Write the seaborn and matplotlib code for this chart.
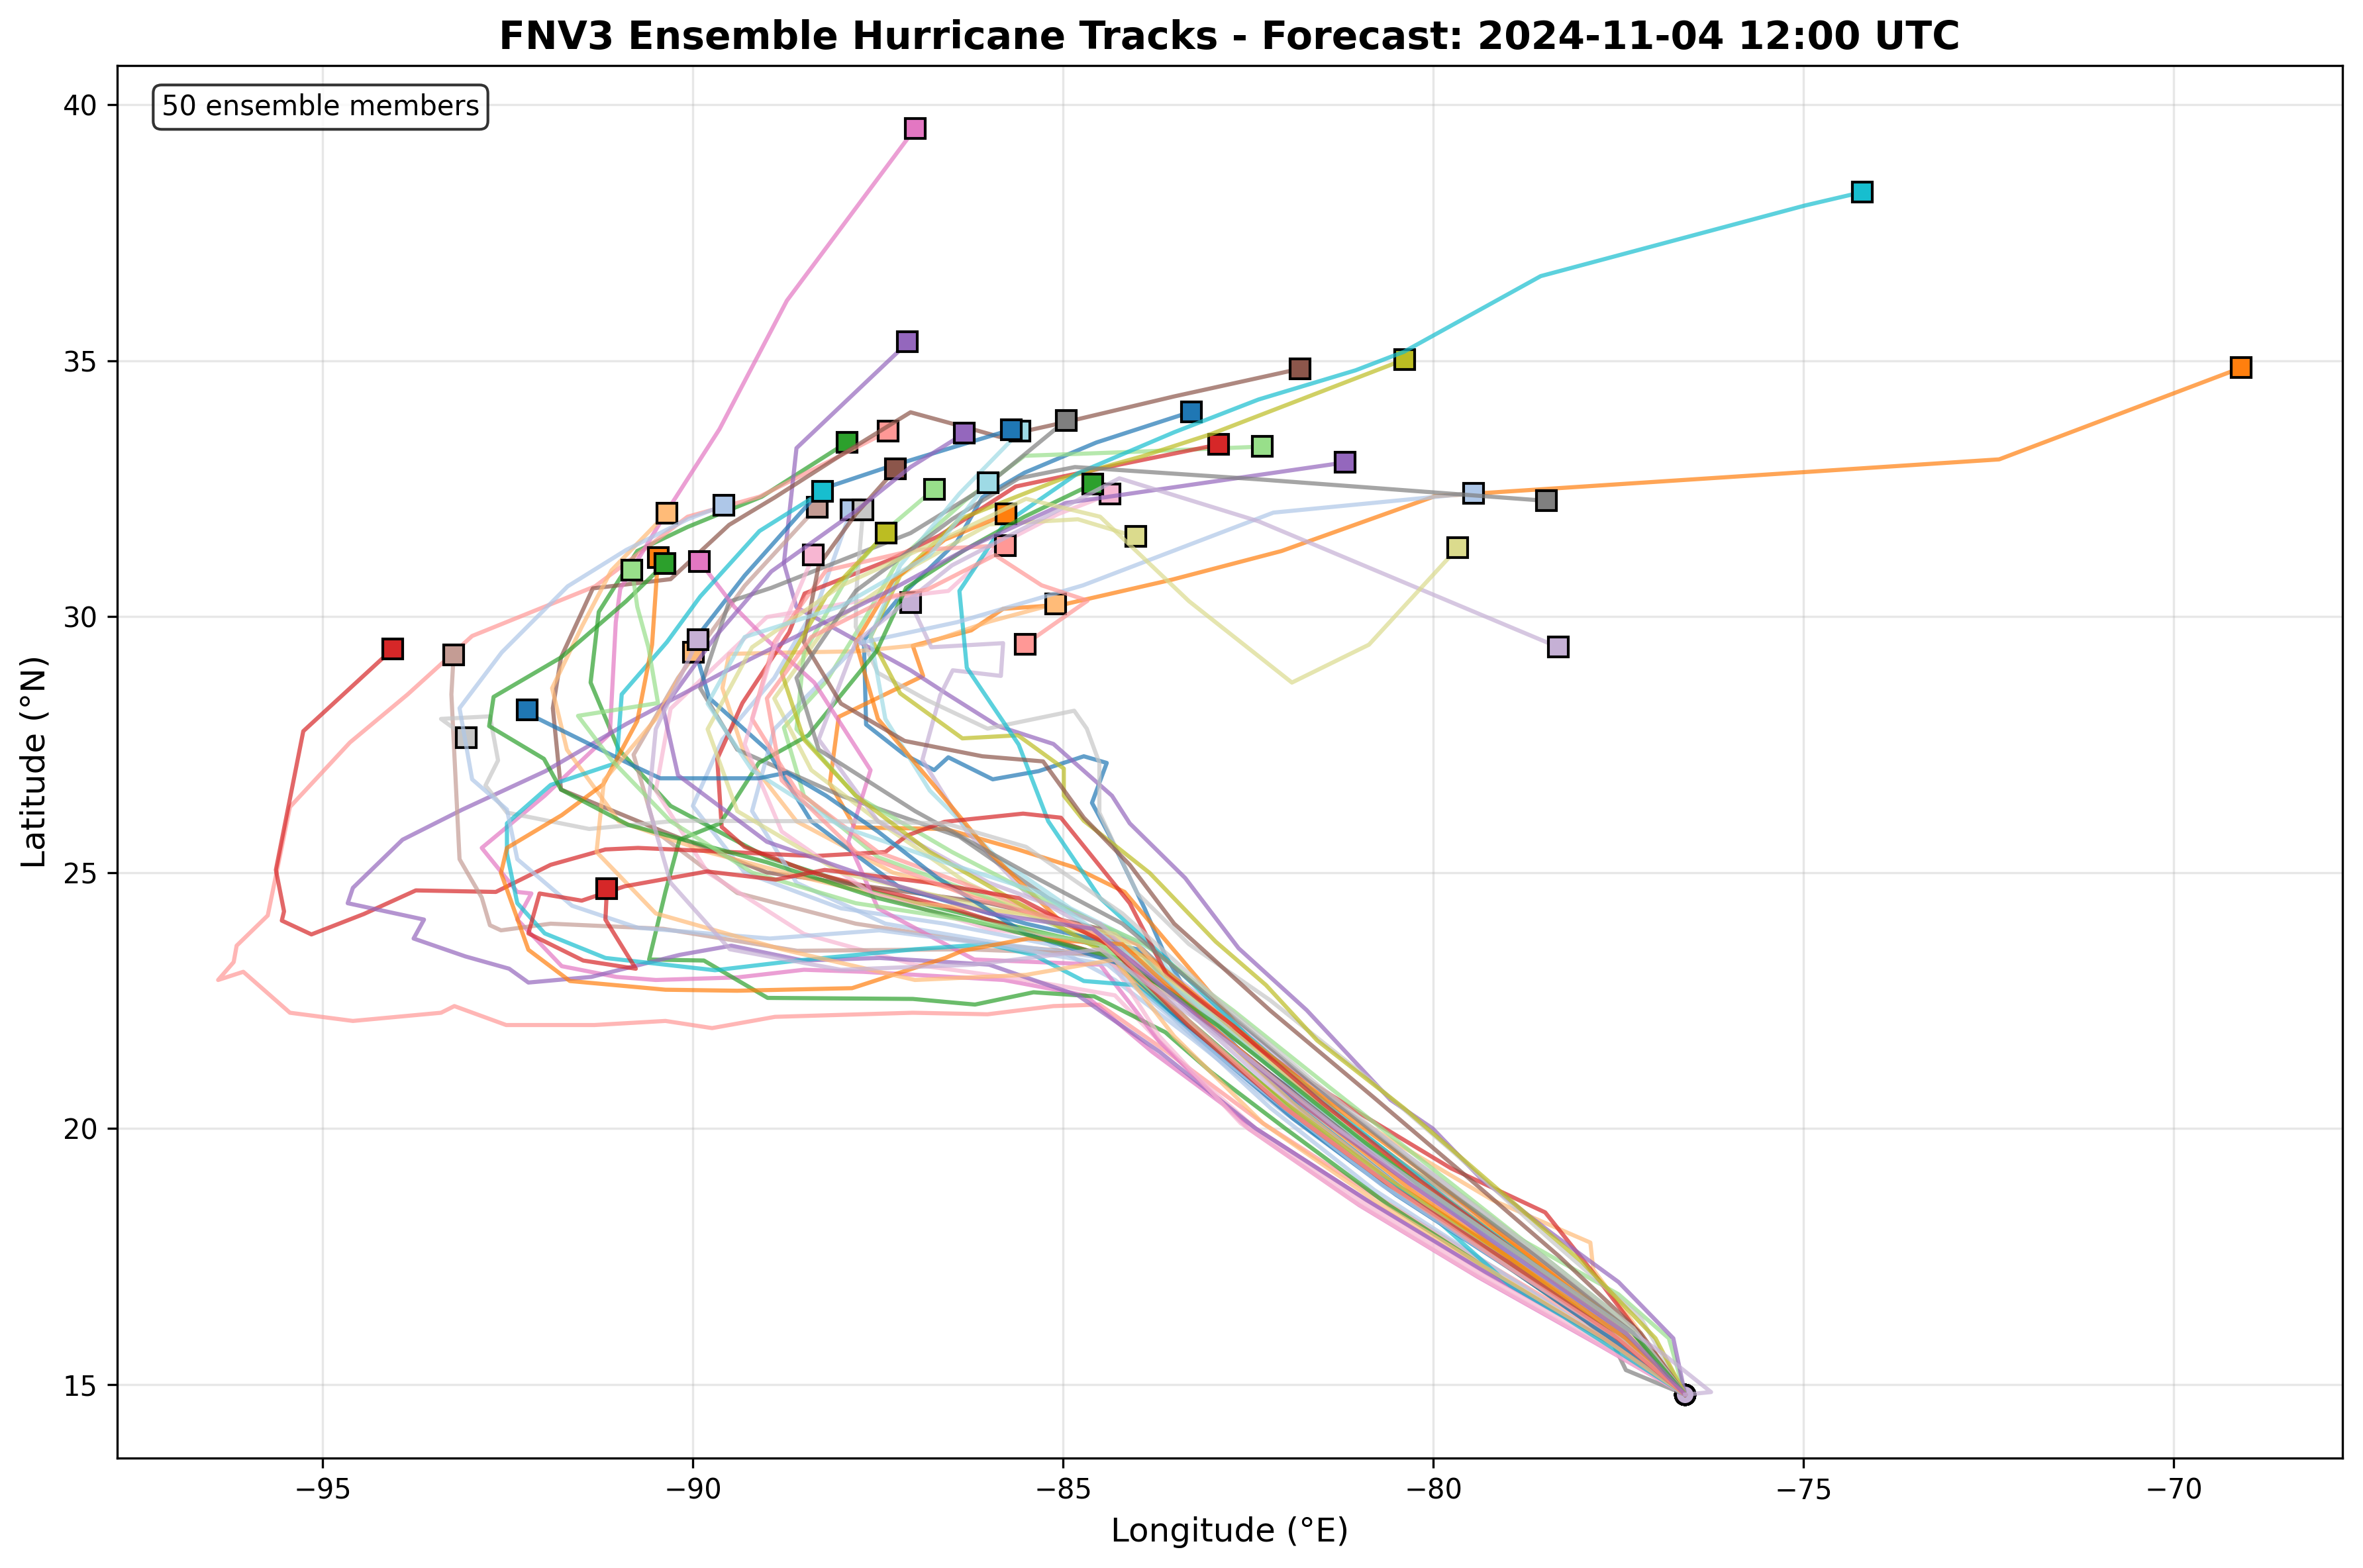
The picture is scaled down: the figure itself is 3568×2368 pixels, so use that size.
import matplotlib
matplotlib.use("Agg")
import matplotlib.pyplot as plt
import pandas as pd
import seaborn as sns

# =========================
# TRACK DATA (lon, lat) per ensemble member
# =========================

m00 = [(-76.6, 14.8), (-77.4, 16.0), (-78.7, 17.4), (-80.2, 18.9), (-81.5, 20.3), (-82.6, 21.5), (-83.3, 22.6),
       (-83.62, 23.38), (-83.9, 24.3), (-84.38, 25.74), (-84.61, 26.36), (-84.41, 27.14), (-84.72, 27.27),
       (-85.33, 26.98), (-85.95, 26.82), (-86.55, 27.25), (-86.74, 27.0), (-87.14, 27.3), (-87.66, 27.89),
       (-87.69, 29.54), (-87.23, 30.34), (-86.43, 31.47), (-86.09, 32.33), (-85.52, 32.81), (-84.55, 33.4),
       (-83.27, 34.0)]
m01 = [(-76.6, 14.8), (-77.6, 16.0), (-79.0, 17.3), (-80.6, 18.8), (-82.0, 20.3), (-83.3, 21.8), (-84.3, 22.9),
       (-85.2, 23.6), (-86.6, 24.0), (-88.0, 24.3), (-89.3, 25.0), (-90.0, 26.3), (-89.6, 27.6), (-88.9, 28.8),
       (-88.3, 30.3), (-87.86, 32.09)]
m02 = [(-76.6, 14.8), (-77.3, 16.0), (-78.5, 17.3), (-79.9, 18.7), (-81.2, 20.0), (-82.4, 21.6), (-83.35, 23.22),
       (-84.17, 24.62), (-84.85, 25.1), (-85.61, 25.45), (-86.59, 25.85), (-87.81, 25.88), (-88.15, 26.74),
       (-88.03, 28.04), (-86.89, 28.84), (-87.03, 29.43), (-86.24, 29.73), (-85.81, 30.15), (-85.01, 30.23),
       (-83.53, 30.72), (-82.05, 31.28), (-79.98, 32.35), (-72.36, 33.07), (-69.09, 34.86)]
m03 = [(-76.6, 14.8), (-77.3, 16.2), (-77.84, 17.24), (-77.88, 17.77), (-79.2, 18.6), (-80.6, 19.8), (-82.0, 21.1),
       (-83.3, 22.5), (-84.4, 23.8), (-85.8, 24.4), (-87.3, 25.0), (-88.6, 26.0), (-89.3, 27.3), (-89.6, 28.6),
       (-89.51, 29.27), (-88.6, 29.3), (-87.8, 29.32), (-86.9, 29.45), (-86.0, 29.9), (-85.1, 30.25)]
m04 = [(-76.6, 14.8), (-77.6, 15.9), (-79.1, 17.4), (-80.7, 19.0), (-82.1, 20.6), (-83.3, 22.1), (-84.3, 23.5),
       (-85.8, 24.0), (-87.5, 24.6), (-89.0, 25.3), (-90.3, 26.3), (-91.0, 27.4), (-91.38, 28.71), (-91.27, 30.09),
       (-90.75, 31.28), (-90.07, 31.75), (-89.07, 32.34), (-87.92, 33.4)]
m05 = [(-76.6, 14.8), (-76.82, 15.9), (-77.5, 16.76), (-78.9, 17.9), (-80.3, 19.2), (-81.7, 20.7), (-83.0, 22.1),
       (-84.5, 23.6), (-86.0, 24.5), (-87.5, 25.3), (-88.5, 26.5), (-88.77, 27.83), (-88.2, 28.73), (-87.7, 29.9),
       (-87.23, 31.09), (-86.32, 32.27), (-85.52, 33.14), (-84.0, 33.22), (-82.31, 33.32)]
m06 = [(-76.6, 14.8), (-77.84, 17.18), (-78.49, 18.36), (-79.76, 19.22), (-81.0, 20.3), (-82.3, 21.5), (-83.4, 22.6),
       (-84.5, 23.4), (-86.5, 24.3), (-88.4, 25.0), (-89.3, 25.5), (-89.61, 25.89), (-89.67, 27.22), (-89.33, 28.31),
       (-88.7, 29.69), (-88.49, 30.45), (-87.35, 31.1), (-86.67, 31.58), (-85.64, 32.54), (-84.3, 32.95),
       (-82.9, 33.36)]
m07 = [(-76.6, 14.8), (-77.7, 16.0), (-79.2, 17.3), (-80.8, 18.7), (-82.3, 20.1), (-83.6, 21.5), (-84.51, 22.42),
       (-85.13, 22.39), (-86.02, 22.23), (-87.03, 22.26), (-88.89, 22.18), (-89.74, 21.96), (-90.37, 22.1),
       (-91.33, 22.02), (-92.52, 22.02), (-93.22, 22.39), (-93.4, 22.26), (-94.59, 22.1), (-95.44, 22.26),
       (-96.07, 23.06), (-96.41, 22.9), (-96.2, 23.25), (-96.16, 23.57), (-95.74, 24.16), (-95.44, 26.28),
       (-94.63, 27.54), (-93.85, 28.48), (-92.98, 29.62), (-91.32, 30.59), (-90.07, 31.95), (-89.1, 32.34),
       (-87.36, 33.62)]
m08 = [(-76.6, 14.8), (-76.76, 15.9), (-77.5, 17.0), (-78.39, 17.94), (-79.35, 19.01), (-80.01, 20.0),
       (-80.58, 20.56), (-81.71, 22.31), (-82.63, 23.52), (-83.35, 24.89), (-84.1, 25.96), (-84.34, 26.5),
       (-85.13, 27.51), (-85.88, 27.86), (-86.56, 28.48), (-87.06, 28.95), (-88.6, 30.18), (-88.77, 31.04),
       (-88.6, 33.29), (-87.23, 35.17), (-87.1, 35.37)]
m09 = [(-76.6, 14.8), (-77.3, 16.1), (-78.6, 17.6), (-80.0, 19.1), (-81.4, 20.6), (-82.7, 22.1), (-83.8, 23.3),
       (-84.5, 23.8), (-85.5, 24.6), (-86.3, 25.8), (-86.9, 27.2), (-86.66, 28.46), (-86.49, 28.95), (-85.84, 28.84),
       (-85.81, 29.48), (-86.78, 29.4), (-87.06, 30.27)]
m10 = [(-76.6, 14.8), (-77.5, 16.1), (-78.9, 17.6), (-80.4, 19.1), (-81.8, 20.6), (-83.1, 22.1), (-84.5, 23.9),
       (-86.0, 24.4), (-87.5, 24.7), (-89.0, 25.0), (-90.4, 25.8), (-91.78, 26.62), (-91.89, 28.21), (-91.78, 29.2),
       (-91.35, 30.55), (-90.3, 30.73), (-89.51, 31.79), (-88.89, 32.33), (-87.97, 33.18), (-87.06, 33.99),
       (-86.2, 33.65), (-85.86, 33.51), (-84.96, 33.8), (-83.5, 34.3), (-81.8, 34.84)]
m11 = [(-76.6, 14.8), (-77.4, 16.2), (-78.8, 17.7), (-80.3, 19.2), (-81.8, 20.8), (-83.1, 22.2), (-84.5, 23.4),
       (-86.0, 23.6), (-87.8, 24.0), (-89.4, 24.6), (-90.5, 25.8), (-90.8, 27.3), (-90.2, 28.8), (-89.3, 30.6),
       (-88.32, 32.14)]
m12 = [(-76.6, 14.8), (-77.6, 15.8), (-79.2, 17.1), (-80.9, 18.6), (-82.4, 20.0), (-83.8, 21.5), (-84.7, 22.6),
       (-85.8, 22.9), (-87.7, 23.06), (-88.5, 23.1), (-89.4, 22.95), (-90.5, 22.9), (-91.03, 22.96), (-91.77, 23.17),
       (-92.37, 24.08), (-92.18, 24.59), (-92.37, 24.62), (-92.85, 25.48), (-92.0, 26.5), (-91.12, 27.71),
       (-91.04, 29.89), (-90.98, 30.54), (-90.3, 32.17), (-89.64, 33.66), (-88.73, 36.17), (-87.0, 39.53)]
m13 = [(-76.6, 14.8), (-77.8, 15.9), (-79.4, 17.2), (-81.0, 18.6), (-82.4, 20.0), (-83.5, 21.4), (-84.3, 22.6),
       (-85.5, 22.9), (-87.0, 23.2), (-88.5, 23.8), (-89.8, 25.0), (-90.5, 26.6), (-90.3, 28.2), (-89.0, 29.99),
       (-87.8, 30.29), (-86.55, 30.5), (-85.86, 31.41), (-85.07, 32.0), (-84.37, 32.39)]
m14 = [(-76.6, 14.8), (-77.4, 15.28), (-77.57, 15.79), (-78.9, 17.4), (-80.1, 18.8), (-81.5, 20.3), (-82.8, 22.0),
       (-84.0, 23.6), (-85.2, 24.5), (-86.4, 25.7), (-88.0, 26.5), (-89.4, 27.4), (-89.9, 28.6), (-89.51, 30.29),
       (-88.94, 30.56), (-87.06, 31.63), (-86.09, 32.49), (-84.96, 33.83)]
m15 = [(-76.6, 14.8), (-77.2, 16.3), (-78.4, 17.8), (-79.7, 19.5), (-80.9, 21.0), (-82.2, 22.5), (-83.3, 23.6),
       (-84.0, 24.6), (-84.51, 26.17), (-84.51, 27.14), (-84.68, 27.81), (-84.85, 28.16), (-86.02, 27.81),
       (-86.84, 28.37), (-87.5, 28.9), (-87.8, 29.8), (-87.79, 30.53), (-87.7, 32.09)]
m16 = [(-76.6, 14.8), (-77.0, 15.9), (-78.0, 17.4), (-79.2, 18.9), (-80.4, 20.4), (-81.57, 21.72), (-82.26, 22.8),
       (-82.94, 23.65), (-83.83, 24.99), (-84.72, 26.01), (-84.99, 26.5), (-84.99, 27.03), (-85.61, 27.68),
       (-86.36, 27.62), (-87.2, 28.5), (-87.6, 29.6), (-87.2, 30.8), (-86.4, 31.9), (-85.0, 32.7), (-83.93, 33.13),
       (-83.01, 33.56), (-80.39, 35.02)]
m17 = [(-76.6, 14.8), (-77.3, 15.9), (-78.6, 17.3), (-80.1, 18.9), (-81.5, 20.5), (-82.8, 22.0), (-83.8, 23.2),
       (-85.0, 23.9), (-86.3, 24.8), (-87.4, 25.9), (-88.4, 27.0), (-88.9, 28.4), (-88.2, 29.8), (-87.0, 31.0),
       (-86.0, 31.8), (-84.8, 31.9), (-84.02, 31.56)]
m18 = [(-76.6, 14.8), (-77.2, 15.7), (-78.4, 17.1), (-79.8, 18.6), (-81.2, 20.2), (-82.5, 21.8), (-83.6, 23.3),
       (-84.5, 24.5), (-85.2, 26.0), (-85.6, 27.5), (-86.3, 29.0), (-86.4, 30.5), (-85.8, 31.8), (-84.8, 32.8),
       (-83.5, 33.6), (-82.36, 34.24), (-81.05, 34.81), (-80.4, 35.17), (-78.55, 36.65), (-74.98, 38.03),
       (-74.21, 38.29)]
m19 = [(-76.6, 14.8), (-77.5, 15.8), (-78.8, 17.2), (-80.3, 18.7), (-81.7, 20.3), (-82.9, 21.9), (-83.8, 23.5),
       (-84.9, 24.3), (-85.9, 25.3), (-86.8, 26.6), (-87.4, 28.0), (-87.6, 29.6), (-87.2, 31.0), (-86.4, 32.4),
       (-85.58, 33.62)]
m20 = [(-76.6, 14.8), (-77.4, 15.9), (-78.8, 17.3), (-80.4, 18.8), (-81.8, 20.4), (-83.0, 22.0), (-84.0, 23.5),
       (-85.5, 24.0), (-87.2, 24.7), (-88.4, 26.0), (-89.0, 27.4), (-89.78, 28.41), (-90.0, 29.5), (-89.3, 30.8),
       (-88.26, 32.49), (-87.43, 32.89), (-86.5, 33.3), (-85.7, 33.65)]
m21 = [(-76.6, 14.8), (-77.7, 15.9), (-79.2, 17.3), (-80.8, 18.8), (-82.2, 20.4), (-83.4, 22.0), (-84.3, 23.3),
       (-85.8, 23.6), (-87.4, 24.0), (-88.6, 24.8), (-89.2, 26.2), (-88.9, 27.8), (-87.75, 29.48), (-86.43, 29.89),
       (-84.73, 30.61), (-82.16, 32.03), (-79.46, 32.41)]
m22 = [(-76.6, 14.8), (-77.4, 16.0), (-78.7, 17.5), (-80.0, 19.0), (-81.4, 20.5), (-82.7, 22.0), (-83.8, 23.3),
       (-85.0, 24.0), (-86.0, 25.4), (-86.8, 26.8), (-87.5, 28.0), (-87.8, 29.5), (-87.3, 30.7), (-86.6, 31.5),
       (-85.77, 32.0)]
m23 = [(-76.6, 14.8), (-77.5, 16.0), (-78.9, 17.4), (-80.5, 18.9), (-81.9, 20.5), (-83.0, 22.0), (-84.0, 23.6),
       (-85.5, 24.2), (-87.0, 24.4), (-88.5, 24.9), (-89.8, 25.4), (-91.0, 26.0), (-91.7, 27.4), (-91.9, 28.6),
       (-91.5, 29.8), (-91.1, 30.9), (-90.35, 32.02)]
m24 = [(-76.6, 14.8), (-77.6, 15.8), (-79.1, 17.1), (-80.6, 18.5), (-82.0, 20.0), (-83.0, 21.1), (-83.62, 21.88),
       (-84.58, 22.58), (-85.4, 22.66), (-86.19, 22.42), (-87.03, 22.53), (-88.99, 22.55), (-89.85, 23.28),
       (-90.59, 23.3), (-90.37, 24.62), (-90.18, 25.64), (-89.63, 25.96), (-89.11, 27.14), (-88.44, 27.68),
       (-87.52, 29.32), (-87.12, 30.56), (-86.32, 31.31), (-85.52, 31.95), (-84.6, 32.59)]
m25 = [(-76.6, 14.8), (-77.3, 16.1), (-78.6, 17.6), (-80.0, 19.2), (-81.4, 20.8), (-82.7, 22.3), (-83.9, 23.6),
       (-85.3, 24.5), (-86.5, 25.4), (-87.8, 26.5), (-88.6, 27.8), (-88.5, 29.3), (-87.9, 30.8), (-87.3, 31.8),
       (-86.74, 32.49)]
m26 = [(-76.6, 14.8), (-77.5, 16.0), (-78.8, 17.5), (-80.2, 19.0), (-81.5, 20.5), (-82.7, 22.0), (-83.6, 23.0),
       (-84.1, 24.4), (-85.03, 26.07), (-85.54, 26.15), (-86.6, 25.99), (-87.11, 25.72), (-87.4, 25.4),
       (-88.37, 25.32), (-89.5, 25.4), (-90.74, 25.48), (-91.18, 25.45), (-91.92, 25.15), (-92.66, 24.62),
       (-93.74, 24.65), (-94.44, 24.19), (-95.15, 23.79), (-95.55, 24.06), (-95.52, 24.24), (-95.63, 25.05),
       (-95.26, 27.76), (-94.05, 29.37)]
m27 = [(-76.6, 14.8), (-77.4, 16.0), (-78.8, 17.4), (-80.3, 18.9), (-81.7, 20.4), (-83.0, 22.0), (-84.5, 23.8),
       (-86.0, 24.6), (-87.5, 25.4), (-88.6, 26.6), (-89.2, 28.0), (-88.9, 29.5), (-88.2, 30.9), (-87.0, 31.3),
       (-85.78, 31.39)]
m28 = [(-76.6, 14.8), (-77.7, 15.9), (-79.3, 17.2), (-80.9, 18.6), (-82.4, 20.0), (-83.7, 21.5), (-84.8, 22.6),
       (-86.0, 23.2), (-87.48, 23.33), (-88.51, 23.28), (-89.48, 23.57), (-90.18, 23.39), (-91.37, 22.96),
       (-92.22, 22.85), (-92.48, 23.12), (-93.07, 23.36), (-93.77, 23.71), (-93.63, 24.08), (-94.66, 24.4),
       (-94.59, 24.7), (-93.92, 25.64), (-93.11, 26.23), (-91.99, 26.98), (-90.9, 27.9), (-89.6, 28.9),
       (-88.2, 29.9), (-87.35, 30.5), (-86.2, 31.4), (-84.96, 32.22), (-81.19, 33.01)]
m29 = [(-76.6, 14.8), (-77.5, 15.9), (-78.9, 17.3), (-80.4, 18.8), (-81.8, 20.3), (-83.1, 22.0), (-84.5, 24.0),
       (-86.0, 24.8), (-87.5, 26.0), (-88.3, 27.6), (-87.8, 29.5), (-86.5, 31.0), (-85.3, 31.9), (-84.24, 32.7),
       (-82.36, 31.86), (-78.31, 29.4)]
m30 = [(-76.6, 14.8), (-77.2, 16.0), (-78.3, 17.5), (-79.5, 19.0), (-80.8, 20.6), (-82.2, 22.3), (-83.5, 24.0),
       (-84.1, 25.15), (-84.72, 26.07), (-85.27, 27.17), (-86.09, 27.27), (-87.14, 27.57), (-88.0, 28.3),
       (-88.5, 29.5), (-88.3, 31.0), (-87.8, 32.0), (-87.26, 32.88)]
m31 = [(-76.6, 14.8), (-77.6, 15.9), (-79.0, 17.3), (-80.5, 18.8), (-81.9, 20.3), (-83.2, 21.9), (-84.5, 23.4),
       (-86.3, 23.5), (-88.59, 23.47), (-90.4, 23.9), (-91.92, 24.0), (-92.59, 23.87), (-92.74, 23.97),
       (-92.85, 24.51), (-93.15, 25.26), (-93.26, 28.48), (-93.23, 29.25)]
m32 = [(-76.6, 14.8), (-77.8, 15.8), (-79.4, 17.1), (-81.0, 18.5), (-82.5, 20.0), (-83.7, 21.7), (-84.5, 23.2),
       (-86.2, 23.3), (-87.5, 24.3), (-87.9, 25.6), (-87.6, 27.0), (-88.36, 28.71), (-89.04, 29.6), (-89.44, 30.19),
       (-89.91, 31.08)]
m33 = [(-76.6, 14.8), (-77.9, 15.9), (-79.5, 17.2), (-81.1, 18.6), (-82.6, 20.1), (-83.7, 21.8), (-84.5, 23.6),
       (-86.0, 23.9), (-87.6, 24.6), (-88.8, 25.8), (-89.3, 27.5), (-88.9, 29.4), (-88.37, 31.2)]
m34 = [(-76.6, 14.8), (-77.3, 16.0), (-78.6, 17.5), (-80.0, 19.0), (-81.4, 20.6), (-82.8, 22.3), (-84.2, 24.0),
       (-85.5, 25.0), (-87.0, 26.2), (-88.3, 27.4), (-88.6, 28.8), (-87.8, 30.5), (-86.5, 31.9), (-85.6, 32.7),
       (-84.84, 32.92), (-82.36, 32.68), (-78.47, 32.26)]
m35 = [(-76.6, 14.8), (-77.3, 16.1), (-78.7, 17.7), (-80.2, 19.3), (-81.6, 20.9), (-82.9, 22.5), (-84.2, 24.2),
       (-85.5, 25.5), (-86.59, 25.96), (-88.0, 26.0), (-90.22, 26.01), (-91.4, 25.85), (-92.51, 26.17),
       (-92.8, 26.7), (-92.63, 27.19), (-92.74, 28.05), (-93.4, 28.0), (-93.06, 27.64)]
m36 = [(-76.6, 14.8), (-77.6, 16.0), (-79.0, 17.5), (-80.6, 19.0), (-82.0, 20.5), (-83.3, 22.0), (-84.4, 23.4),
       (-85.6, 24.4), (-86.8, 25.4), (-87.8, 26.5), (-88.5, 27.6), (-88.8, 28.9), (-88.2, 30.4), (-87.39, 31.63)]
m37 = [(-76.6, 14.8), (-77.4, 16.0), (-78.8, 17.5), (-80.3, 19.0), (-81.7, 20.6), (-83.0, 22.2), (-84.3, 23.8),
       (-86.0, 24.3), (-88.0, 25.0), (-89.4, 26.2), (-89.8, 27.8), (-89.2, 29.4), (-88.0, 30.6), (-86.5, 31.6),
       (-85.5, 32.3), (-84.5, 31.95), (-83.3, 30.3), (-81.91, 28.71), (-80.87, 29.45), (-79.67, 31.34)]
m38 = [(-76.6, 14.8), (-78.25, 16.33), (-78.97, 16.94), (-80.24, 18.58), (-81.6, 19.9), (-83.0, 21.6),
       (-84.03, 22.8), (-84.72, 22.88), (-85.4, 23.39), (-86.02, 23.6), (-87.0, 23.5), (-88.59, 23.28),
       (-89.7, 23.09), (-91.18, 23.33), (-92.0, 23.81), (-92.37, 24.4), (-92.51, 25.37), (-92.51, 25.96),
       (-91.92, 26.71), (-91.03, 27.14), (-90.96, 28.48), (-90.35, 29.5), (-89.9, 30.39), (-89.1, 31.67),
       (-88.25, 32.44)]
m39 = [(-76.6, 14.8), (-77.5, 16.0), (-78.9, 17.5), (-80.4, 19.1), (-81.8, 20.7), (-83.0, 22.2), (-84.0, 23.3),
       (-85.3, 24.6), (-86.6, 25.2), (-88.0, 25.9), (-89.2, 27.0), (-89.8, 28.3), (-89.3, 29.6), (-88.0, 30.2),
       (-86.8, 31.2), (-86.01, 32.62)]
m40 = [(-76.6, 14.8), (-77.5, 15.8), (-78.9, 17.2), (-80.5, 18.7), (-81.9, 20.2), (-83.2, 21.8), (-84.2, 23.2),
       (-85.5, 23.8), (-86.7, 24.9), (-87.5, 25.8), (-88.2, 26.5), (-88.73, 26.95), (-89.11, 26.84), (-90.44, 26.84),
       (-90.81, 27.09), (-92.11, 28.02), (-92.24, 28.18)]
m41 = [(-76.6, 14.8), (-77.6, 16.0), (-79.1, 17.4), (-80.7, 18.9), (-82.1, 20.5), (-83.4, 22.0), (-84.4, 23.2),
       (-86.0, 23.6), (-87.48, 23.87), (-88.96, 23.71), (-90.74, 23.92), (-91.63, 24.35), (-92.37, 25.26),
       (-92.51, 26.23), (-92.98, 26.82), (-93.15, 28.21), (-92.58, 29.3), (-91.69, 30.59), (-90.9, 31.3),
       (-90.07, 31.9), (-89.58, 32.17)]
m42 = [(-76.6, 14.8), (-77.4, 15.9), (-78.8, 17.3), (-80.3, 18.8), (-81.7, 20.4), (-83.0, 22.0), (-84.2, 23.6),
       (-85.47, 23.71), (-86.36, 23.47), (-86.59, 23.33), (-87.85, 22.74), (-89.4, 22.69), (-90.37, 22.71),
       (-91.66, 22.88), (-92.22, 23.49), (-92.59, 24.99), (-92.51, 25.48), (-91.77, 26.12), (-91.21, 26.72),
       (-90.75, 27.96), (-90.55, 29.45), (-90.47, 31.15)]
m43 = [(-76.6, 14.8), (-77.7, 15.9), (-79.2, 17.2), (-80.8, 18.6), (-82.3, 20.1), (-83.5, 21.8), (-84.3, 23.3),
       (-85.5, 23.0), (-87.0, 22.9), (-88.8, 23.5), (-90.5, 24.2), (-91.3, 25.4), (-91.2, 26.8), (-90.5, 28.0),
       (-89.99, 29.3)]
m44 = [(-76.6, 14.8), (-77.3, 16.0), (-78.7, 17.4), (-80.2, 18.9), (-81.6, 20.5), (-82.9, 22.0), (-84.2, 23.3),
       (-85.8, 23.9), (-87.5, 24.5), (-89.0, 25.2), (-90.87, 25.93), (-91.78, 26.62), (-92.01, 27.22),
       (-92.75, 27.86), (-92.69, 28.43), (-91.78, 29.2), (-90.9, 30.3), (-90.38, 31.03)]
m45 = [(-76.6, 14.8), (-77.5, 15.9), (-78.9, 17.3), (-80.5, 18.8), (-81.9, 20.3), (-83.2, 21.9), (-84.5, 23.6),
       (-86.0, 24.0), (-87.8, 24.4), (-89.2, 25.0), (-90.3, 26.0), (-91.1, 27.2), (-91.55, 28.06), (-90.47, 28.31),
       (-90.6, 29.4), (-90.75, 30.19), (-90.82, 30.91)]
m46 = [(-76.6, 14.8), (-77.6, 16.0), (-79.0, 17.4), (-80.6, 18.9), (-82.0, 20.4), (-83.3, 22.0), (-84.4, 23.6),
       (-85.6, 24.5), (-86.8, 24.8), (-88.22, 25.05), (-88.88, 24.86), (-89.81, 25.02), (-90.92, 24.73),
       (-91.5, 24.45), (-92.07, 24.59), (-92.22, 23.81), (-91.48, 23.28), (-90.77, 23.12), (-91.18, 24.08),
       (-91.16, 24.68)]
m47 = [(-76.6, 14.8), (-77.5, 15.9), (-79.0, 17.3), (-80.5, 18.8), (-82.0, 20.4), (-83.3, 22.1), (-84.6, 23.9),
       (-86.2, 24.5), (-87.8, 25.4), (-88.8, 26.8), (-89.0, 28.4), (-88.4, 29.6), (-87.3, 30.4), (-86.83, 30.53),
       (-85.92, 31.2), (-85.29, 30.61), (-84.67, 30.31), (-85.51, 29.46)]
m48 = [(-76.6, 14.8), (-77.4, 16.0), (-78.8, 17.4), (-80.3, 18.9), (-81.8, 20.5), (-83.1, 22.1), (-84.6, 23.9),
       (-86.0, 24.2), (-87.6, 24.9), (-89.0, 25.6), (-90.2, 26.9), (-90.4, 28.2), (-89.7, 29.6), (-88.94, 30.88),
       (-87.8, 32.06), (-87.06, 32.92), (-86.33, 33.58)]
m49 = [(-76.6, 14.8), (-76.25, 14.85), (-76.9, 15.6), (-78.3, 17.0), (-79.8, 18.5), (-81.3, 20.0), (-82.7, 21.6),
       (-84.5, 23.5), (-86.2, 23.2), (-88.0, 23.1), (-89.5, 23.5), (-90.3, 24.8), (-90.6, 26.3), (-90.5, 27.8),
       (-89.93, 29.55)]

tracks = [m00, m01, m02, m03, m04, m05, m06, m07, m08, m09,
          m10, m11, m12, m13, m14, m15, m16, m17, m18, m19,
          m20, m21, m22, m23, m24, m25, m26, m27, m28, m29,
          m30, m31, m32, m33, m34, m35, m36, m37, m38, m39,
          m40, m41, m42, m43, m44, m45, m46, m47, m48, m49]

TITLE = "FNV3 Ensemble Hurricane Tracks - Forecast: 2024-11-04 12:00 UTC"

# =========================
# BUILD LONG TABLE
# =========================

rows = []
for member, trk in enumerate(tracks):
    for step, (lon, lat) in enumerate(trk):
        rows.append((member, step, lon, lat))

df = pd.DataFrame(rows, columns=["member", "step", "lon", "lat"])

palette = sns.color_palette("tab20", 20)

# =========================
# PLOT
# =========================

fig = plt.figure(figsize=(3568 / 300, 2368 / 300), dpi=300)
ax = fig.add_axes([0.0495, 0.0702, 0.9418, 0.8881])

for member in range(len(tracks)):
    sub = df[df["member"] == member]
    color = palette[member % 20]

    sns.lineplot(
        data=sub,
        x="lon",
        y="lat",
        sort=False,
        estimator=None,
        color=color,
        alpha=0.7,
        linewidth=1.5,
        ax=ax
    )

    # start point (under the lines) and end point
    ax.plot(sub["lon"].iloc[0], sub["lat"].iloc[0], "o", color=color,
            markeredgecolor="black", markersize=7, markeredgewidth=1, zorder=1.9)
    ax.plot(sub["lon"].iloc[-1], sub["lat"].iloc[-1], "s", color=color,
            markeredgecolor="black", markersize=7, markeredgewidth=1)

ax.set_title(TITLE, fontsize=14, fontweight="bold")
ax.set_xlabel("Longitude (°E)", fontsize=12)
ax.set_ylabel("Latitude (°N)", fontsize=12)
ax.grid(True, alpha=0.3)

ax.text(
    0.02, 0.98,
    f"{len(tracks)} ensemble members",
    transform=ax.transAxes,
    fontsize=10,
    va="top",
    bbox=dict(boxstyle="round", facecolor="white", alpha=0.8)
)

fig.savefig("out.png", dpi=300)
